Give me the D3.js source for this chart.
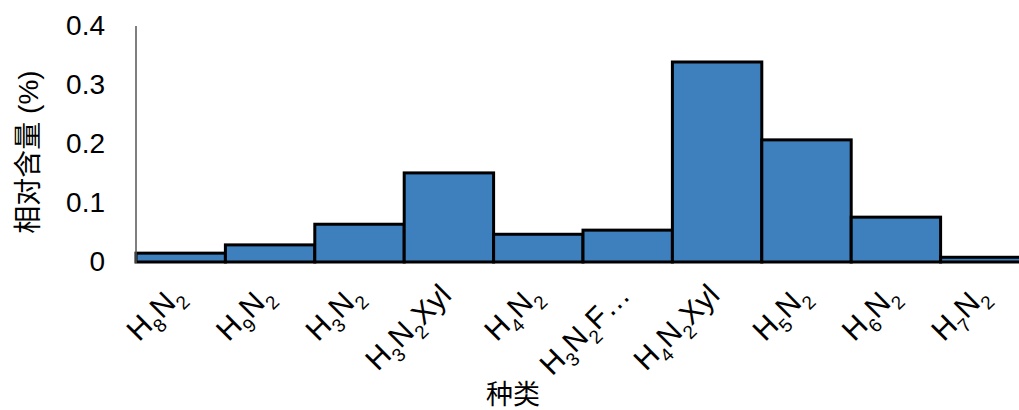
<!DOCTYPE html>
<html><head><meta charset="utf-8">
<script src="https://cdn.jsdelivr.net/npm/d3@7"></script>
<style>body{margin:0;background:#fff}svg{display:block}</style>
</head><body>
<svg id="c" width="1019" height="410"></svg>
<script>
const categories = ["H8N2","H9N2","H3N2","H3N2Xyl","H4N2","H3N2F…","H4N2Xyl","H5N2","H6N2","H7N2"];
const values = [0.015, 0.029, 0.064, 0.151, 0.047, 0.054, 0.339, 0.207, 0.076, 0.008];
const yTicks = [0, 0.1, 0.2, 0.3, 0.4];
const yTickLabels = ["0", "0.1", "0.2", "0.3", "0.4"];
const yTitle = "相对含量 (%)";
const xTitle = "种类";

const svg = d3.select("#c");
const font = "'Liberation Sans', Arial, 'Noto Sans CJK SC', sans-serif";
const x = d3.scaleBand().domain(categories).range([136, 1030]).padding(0);
const y = d3.scaleLinear().domain([0, 0.4]).range([262, 26]);

// bars
svg.append("g").selectAll("rect").data(values).join("rect")
  .attr("x", (d,i) => x(categories[i]))
  .attr("y", d => y(d))
  .attr("width", x.bandwidth())
  .attr("height", d => y(0) - y(d))
  .attr("fill", "#3e7fbd")
  .attr("stroke", "#000")
  .attr("stroke-width", 3);

// y axis line
svg.append("line").attr("x1", 136).attr("x2", 136).attr("y1", 26).attr("y2", 263)
  .attr("stroke", "#555").attr("stroke-width", 1.5);

// y axis labels
const yAxis = d3.axisLeft(y).tickValues(yTicks).tickSize(0).tickPadding(31)
  .tickFormat((d,i) => yTickLabels[i]);
const gy = svg.append("g").attr("transform", "translate(136,0)").call(yAxis);
gy.select(".domain").remove();
gy.selectAll("text").attr("font-family", font).attr("font-size", 28).attr("fill", "#000");

// x labels with subscripts
const xl = svg.append("g");
categories.forEach(c => {
  const cx = x(c) + x.bandwidth() / 2;
  const t = xl.append("text")
    .attr("transform", `translate(${cx + 4},${297}) rotate(-45)`)
    .attr("text-anchor", "end")
    .attr("font-family", font).attr("font-size", 30).attr("fill", "#000");
  const parts = c.match(/(\d+|\D+)/g);
  let sub = false;
  parts.forEach(p => {
    if (/^\d+$/.test(p)) {
      t.append("tspan").attr("font-size", 19).attr("dy", sub ? 0 : 9).text(p);
      sub = true;
    } else {
      t.append("tspan").attr("dy", sub ? -9 : 0).text(p);
      sub = false;
    }
  });
});

// axis titles
svg.append("text").attr("transform", "translate(38,152) rotate(-90)")
  .attr("text-anchor", "middle").attr("font-family", font).attr("font-size", 28).attr("fill", "#000")
  .text(yTitle);
svg.append("text").attr("x", 513).attr("y", 404)
  .attr("text-anchor", "middle").attr("font-family", font).attr("font-size", 27).attr("fill", "#000")
  .text(xTitle);
</script>
</body></html>
